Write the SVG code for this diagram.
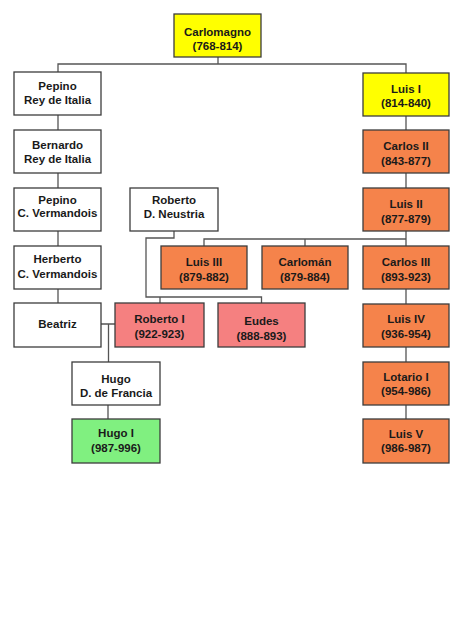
<svg xmlns="http://www.w3.org/2000/svg" width="474" height="619" viewBox="0 0 474 619">
<style>
.box{stroke:#3c3c3c;stroke-width:1.3}
.w{fill:#ffffff}.y{fill:#ffff00}.o{fill:#f5834b}.p{fill:#f58080}.g{fill:#80f080}
text{font-family:"Liberation Sans",Arial,sans-serif;font-weight:bold;font-size:11.5px;fill:#1a1a1a;text-anchor:middle}
.c{fill:none;stroke:#555555;stroke-width:1.3}
</style>
<rect width="474" height="619" fill="#ffffff"/>
<g id="connectors" class="c">
<path d="M218,57V64M58,72V64H406V73"/>
<path d="M58,115V130M58,173V188M58,231V246M58,289V303"/>
<path d="M406,116V130M406,173V188M406,231V246M406,289V304M406,347V362M406,405V419"/>
<path d="M204,246V239H406M305,239V246"/>
<path d="M174,231V238H146V297H261.5V303M160,297V303"/>
<path d="M101,324H115M108.5,324V362M108,405V419"/>
</g>
<g id="carlomagno"><rect class="box y" x="174" y="14" width="87" height="43"/><text x="217.5" y="36">Carlomagno</text><text x="217.5" y="50">(768-814)</text></g>
<g id="pepino-italia"><rect class="box w" x="14" y="72" width="87" height="43"/><text x="57.5" y="90">Pepino</text><text x="57.5" y="103.5">Rey de Italia</text></g>
<g id="bernardo"><rect class="box w" x="14" y="130" width="87" height="43"/><text x="57.5" y="148.5">Bernardo</text><text x="57.5" y="162.5">Rey de Italia</text></g>
<g id="pepino-vermandois"><rect class="box w" x="14" y="188" width="87" height="43"/><text x="57.5" y="203.5">Pepino</text><text x="57.5" y="217">C. Vermandois</text></g>
<g id="herberto"><rect class="box w" x="14" y="246" width="87" height="43"/><text x="57.5" y="263.3">Herberto</text><text x="57.5" y="277.5">C. Vermandois</text></g>
<g id="beatriz"><rect class="box w" x="14" y="303" width="87" height="44"/><text x="57.5" y="327.7">Beatriz</text></g>
<g id="roberto-neustria"><rect class="box w" x="130" y="188" width="88" height="43"/><text x="174" y="204">Roberto</text><text x="174" y="217.7">D. Neustria</text></g>
<g id="luis-i"><rect class="box y" x="363" y="73" width="86" height="43"/><text x="406" y="93.3">Luis I</text><text x="406" y="107">(814-840)</text></g>
<g id="carlos-ii"><rect class="box o" x="363" y="130" width="86" height="43"/><text x="406" y="150">Carlos II</text><text x="406" y="165">(843-877)</text></g>
<g id="luis-ii"><rect class="box o" x="363" y="188" width="86" height="43"/><text x="406" y="208.3">Luis II</text><text x="406" y="223.3">(877-879)</text></g>
<g id="luis-iii"><rect class="box o" x="161" y="246" width="86" height="43"/><text x="204" y="266">Luis III</text><text x="204" y="281">(879-882)</text></g>
<g id="carloman"><rect class="box o" x="262" y="246" width="86" height="43"/><text x="305" y="266">Carlomán</text><text x="305" y="281">(879-884)</text></g>
<g id="carlos-iii"><rect class="box o" x="363" y="246" width="86" height="43"/><text x="406" y="266">Carlos III</text><text x="406" y="281">(893-923)</text></g>
<g id="roberto-i"><rect class="box p" x="115" y="303" width="89" height="44"/><text x="159.5" y="323.3">Roberto I</text><text x="159.5" y="338.3">(922-923)</text></g>
<g id="eudes"><rect class="box p" x="218" y="303" width="87" height="44"/><text x="261.5" y="325">Eudes</text><text x="261.5" y="340">(888-893)</text></g>
<g id="hugo-francia"><rect class="box w" x="72" y="362" width="88" height="43"/><text x="116" y="383.3">Hugo</text><text x="116" y="396.7">D. de Francia</text></g>
<g id="hugo-i"><rect class="box g" x="72" y="419" width="88" height="44"/><text x="116" y="436.7">Hugo I</text><text x="116" y="451.7">(987-996)</text></g>
<g id="luis-iv"><rect class="box o" x="363" y="304" width="86" height="43"/><text x="406" y="323.3">Luis IV</text><text x="406" y="337.7">(936-954)</text></g>
<g id="lotario-i"><rect class="box o" x="363" y="362" width="86" height="43"/><text x="406" y="380.7">Lotario I</text><text x="406" y="395">(954-986)</text></g>
<g id="luis-v"><rect class="box o" x="363" y="419" width="86" height="44"/><text x="406" y="437.7">Luis V</text><text x="406" y="451.7">(986-987)</text></g>
</svg>
